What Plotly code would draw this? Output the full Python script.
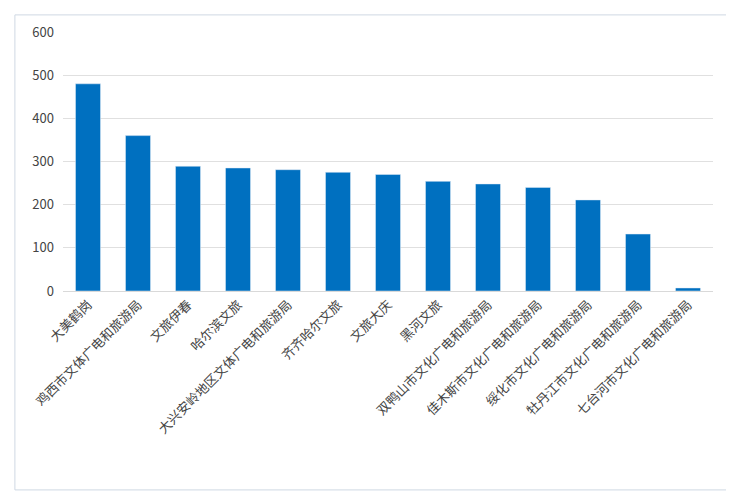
import plotly.graph_objects as go

categories = ["大美鹤岗", "鸡西市文体广电和旅游局", "文旅伊春", "哈尔滨文旅",
              "大兴安岭地区文体广电和旅游局", "齐齐哈尔文旅", "文旅大庆", "黑河文旅",
              "双鸭山市文化广电和旅游局", "佳木斯市文化广电和旅游局", "绥化市文化广电和旅游局",
              "牡丹江市文化广电和旅游局", "七台河市文化广电和旅游局"]
values = [480, 360, 289, 285, 281, 275, 270, 254, 248, 240, 211, 132, 7]

fig = go.Figure(go.Bar(x=categories, y=values, marker_color="#0070C0", width=0.5))

fig.update_layout(
    width=734, height=491,
    margin=dict(l=55, r=29, t=24, b=208),
    plot_bgcolor="white", paper_bgcolor="white",
    font=dict(family="Noto Sans CJK SC", size=13, color="#444"),
    showlegend=False,
    bargap=0.5,
)
fig.update_xaxes(tickangle=-45, showline=True, linecolor="#d9d9d9", ticks="")
fig.update_yaxes(range=[0, 600], dtick=100, gridcolor="#e0e0e0", zeroline=False,
                 ticklabelstandoff=8)
fig.add_shape(type="rect", xref="paper", yref="paper",
              x0=-0.074, x1=1.034, y0=-0.768, y1=1.066,
              line=dict(color="#cfd8e3", width=1))

fig.write_html("out.html")
